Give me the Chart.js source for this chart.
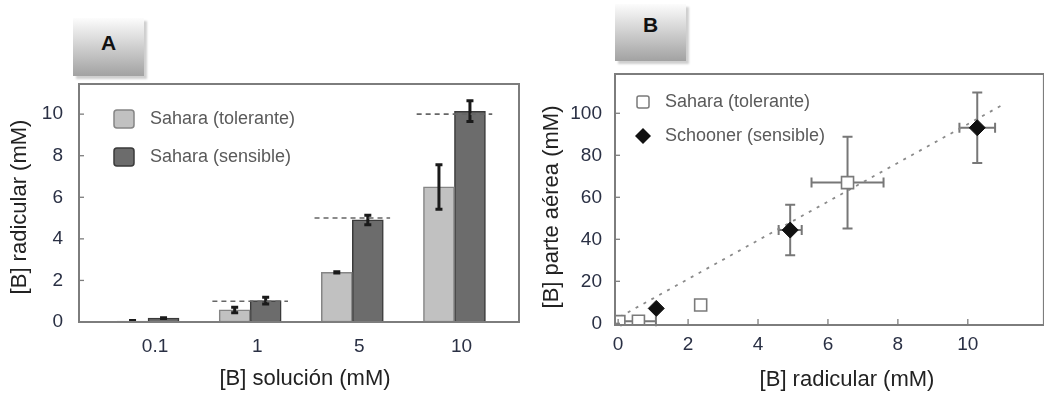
<!DOCTYPE html>
<html>
<head>
<meta charset="utf-8">
<script src="https://cdn.jsdelivr.net/npm/chart.js@4.4.0/dist/chart.umd.min.js"></script>
<style>
body{margin:0;background:#fff;width:1044px;height:394px;overflow:hidden;position:relative;font-family:"Liberation Sans",Arial,sans-serif}
canvas{position:absolute;top:0}
#chartA{left:0}
#chartB{left:520px}
.tab{position:absolute;background:linear-gradient(#fcfcfc,#a2a2a2);box-shadow:3px 3px 2px #cfcfcf;font-weight:bold;font-size:21px;text-align:center;color:#111}
#tabA{left:73px;top:18px;width:71px;height:58px;line-height:50px}
#tabB{left:615px;top:4px;width:71px;height:57px;line-height:42px}
</style>
</head>
<body>
<div class="tab" id="tabA">A</div>
<div class="tab" id="tabB">B</div>
<canvas id="chartA" width="520" height="394"></canvas>
<canvas id="chartB" width="524" height="394"></canvas>
<script>
// panel A: root B vs solution B
var categories = ['0.1', '1', '5', '10'];
var tolerantRoot = [0.05, 0.58, 2.39, 6.5];
var tolerantRootErr = [0.02, 0.13, 0.03, 1.07];
var sensibleRoot = [0.19, 1.03, 4.91, 10.14];
var sensibleRootErr = [0.02, 0.16, 0.23, 0.5];
var solutionLevels = [null, 1, 5, 10];
var rootTicks = [0, 2, 4, 6, 8, 10];

// panel B: shoot B vs root B
var tolerantX = [0.02, 0.58, 2.36, 6.56];
var tolerantY = [0.8, 1.0, 8.7, 67];
var tolerantXErr = [0, 0.5, 0, 1.03];
var tolerantYErr = [0, 0, 0, 21.8];
var sensibleX = [1.09, 4.92, 10.27];
var sensibleY = [7.1, 44.4, 93.1];
var sensibleXErr = [0, 0.33, 0.51];
var sensibleYErr = [0, 12, 16.8];
var trendX = [0.05, 10.95];
var trendY = [3.1, 103.6];
var shootTicks = [0, 20, 40, 60, 80, 100];
var radTicks = [0, 2, 4, 6, 8, 10];

var tickFont = {family: 'Liberation Sans', size: 19};
var tickColor = '#2a3044';

function setTicks(list) {
    return function(scale) { scale.ticks = list.map(function(v) { return {value: v}; }); };
}

function drawErrors(chart, o) {
    var ctx = chart.ctx, xs = chart.scales.x, ys = chart.scales.y;
    ctx.save();
    ctx.strokeStyle = o.color;
    chart.data.datasets.forEach(function(ds, d) {
        if (!ds.errorY) return;
        var meta = chart.getDatasetMeta(d);
        meta.data.forEach(function(el, i) {
            var val = ds.data[i].y, ey = ds.errorY[i] || 0, ex = ds.errorX ? ds.errorX[i] || 0 : 0;
            var cx = el.x, cy = el.y;
            if (ey > 0) {
                var y1 = ys.getPixelForValue(val - ey), y2 = ys.getPixelForValue(val + ey);
                ctx.lineWidth = o.width;
                ctx.beginPath();
                ctx.moveTo(cx, y1); ctx.lineTo(cx, y2);
                ctx.stroke();
                ctx.lineWidth = o.capWidth;
                ctx.beginPath();
                ctx.moveTo(cx - o.cap, y1); ctx.lineTo(cx + o.cap, y1);
                ctx.moveTo(cx - o.cap, y2); ctx.lineTo(cx + o.cap, y2);
                ctx.stroke();
            }
            if (ex > 0) {
                var xv = ds.data[i].x;
                var x1 = xs.getPixelForValue(xv - ex), x2 = xs.getPixelForValue(xv + ex);
                ctx.lineWidth = o.width;
                ctx.beginPath();
                ctx.moveTo(x1, cy); ctx.lineTo(x2, cy);
                ctx.moveTo(x1, cy - o.cap); ctx.lineTo(x1, cy + o.cap);
                ctx.moveTo(x2, cy - o.cap); ctx.lineTo(x2, cy + o.cap);
                ctx.stroke();
            }
        });
    });
    ctx.restore();
}

function drawMarker(ctx, ds, x, y) {
    ctx.save();
    ctx.lineWidth = 1.5;
    if (ds.type === 'bar' || !ds.type) {
        ctx.fillStyle = ds.backgroundColor;
        ctx.strokeStyle = ds.borderColor;
        ctx.beginPath();
        ctx.roundRect(x - 10, y - 9, 20, 18, 3);
        ctx.fill(); ctx.stroke();
    } else if (ds.pointStyle === 'rect') {
        ctx.fillStyle = '#fff';
        ctx.strokeStyle = ds.pointBorderColor;
        ctx.beginPath();
        ctx.roundRect(x - 6, y - 6, 12, 12, 2);
        ctx.fill(); ctx.stroke();
    } else {
        ctx.fillStyle = ds.pointBackgroundColor;
        ctx.beginPath();
        ctx.moveTo(x - 8, y); ctx.lineTo(x, y - 8); ctx.lineTo(x + 8, y); ctx.lineTo(x, y + 8);
        ctx.closePath();
        ctx.fill();
    }
    ctx.restore();
}

var extras = {
    id: 'extras',
    beforeDatasetsDraw: function(chart, args, o) {
        if (o.errors && o.errors.below) drawErrors(chart, o.errors);
    },
    afterDatasetsDraw: function(chart, args, o) {
        var ctx = chart.ctx, xs = chart.scales.x, ys = chart.scales.y;
        if (o.errors && !o.errors.below) drawErrors(chart, o.errors);
        if (o.refLines) {
            ctx.save();
            ctx.strokeStyle = '#666';
            ctx.lineWidth = 1.6;
            ctx.setLineDash([5, 4]);
            o.refLines.levels.forEach(function(lv, i) {
                if (lv === null) return;
                var y = ys.getPixelForValue(lv);
                ctx.beginPath();
                ctx.moveTo(xs.getPixelForValue(i + 1 - o.refLines.half), y);
                ctx.lineTo(xs.getPixelForValue(i + 1 + o.refLines.half), y);
                ctx.stroke();
            });
            ctx.restore();
        }
    },
    afterDraw: function(chart, args, o) {
        var ctx = chart.ctx, a = chart.chartArea;
        var xs = chart.scales.x, ys = chart.scales.y;
        ctx.save();
        // frame
        ctx.strokeStyle = '#7d7d7d';
        ctx.lineWidth = 2;
        ctx.strokeRect(a.left, a.top, a.right - a.left + (o.openRight ? 10 : 0), a.bottom - a.top);
        // inner tick marks
        ctx.lineWidth = 1.3;
        ys.ticks.forEach(function(t) {
            var y = ys.getPixelForValue(t.value);
            ctx.beginPath(); ctx.moveTo(a.left, y); ctx.lineTo(a.left + 5, y); ctx.stroke();
        });
        if (o.xTicks) {
            xs.ticks.forEach(function(t) {
                var x = xs.getPixelForValue(t.value);
                ctx.beginPath(); ctx.moveTo(x, a.bottom); ctx.lineTo(x, a.bottom - 6); ctx.stroke();
            });
        }
        // legend
        ctx.font = '18px "Liberation Sans", Arial, sans-serif';
        ctx.textBaseline = 'middle';
        ctx.textAlign = 'left';
        o.legend.order.forEach(function(d, k) {
            var ds = chart.data.datasets[d];
            var cy = o.legend.y + k * o.legend.gap;
            drawMarker(ctx, ds, o.legend.x, cy);
            ctx.fillStyle = '#5a5a5a';
            ctx.fillText(ds.label, o.legend.textX, cy);
        });
        // axis titles
        ctx.fillStyle = '#222';
        ctx.font = '22px "Liberation Sans", Arial, sans-serif';
        ctx.textAlign = 'center';
        ctx.fillText(o.titles.x.text, o.titles.x.cx, o.titles.x.cy);
        ctx.translate(o.titles.y.cx, o.titles.y.cy);
        ctx.rotate(-Math.PI / 2);
        ctx.fillText(o.titles.y.text, 0, 0);
        ctx.restore();
    }
};

var chartA = new Chart(document.getElementById('chartA'), {
    type: 'bar',
    data: {
        datasets: [{
            label: 'Sahara (tolerante)',
            data: tolerantRoot.map(function(v, i) { return {x: i + 1, y: v}; }),
            errorY: tolerantRootErr,
            backgroundColor: '#c1c1c1',
            borderColor: '#858585',
            borderWidth: 1.5,
            borderSkipped: false
        }, {
            label: 'Sahara (sensible)',
            data: sensibleRoot.map(function(v, i) { return {x: i + 1, y: v}; }),
            errorY: sensibleRootErr,
            backgroundColor: '#6c6c6c',
            borderColor: '#3a3a3a',
            borderWidth: 1.5,
            borderSkipped: false
        }]
    },
    options: {
        responsive: false,
        animation: false,
        barThickness: 31,
        layout: {padding: {top: 84, right: 1, left: 0, bottom: 0}},
        scales: {
            x: {
                type: 'linear', min: 0.324, max: 4.632, offset: false,
                grid: {display: false, drawTicks: false}, border: {display: false},
                afterBuildTicks: setTicks([1, 2, 3, 4]),
                afterFit: function(s) { s.height = 72; },
                ticks: {font: tickFont, color: tickColor, padding: 13, labelOffset: 7,
                    callback: function(v) { return categories[v - 1]; }}
            },
            y: {
                min: 0, max: 11.45,
                grid: {display: false, drawTicks: false}, border: {display: false},
                afterBuildTicks: setTicks(rootTicks),
                afterFit: function(s) { s.width = 79; },
                ticks: {font: tickFont, color: tickColor, padding: 16}
            }
        },
        plugins: {
            legend: {display: false},
            tooltip: {enabled: false},
            extras: {
                errors: {color: '#1a1a1a', width: 3, capWidth: 3, cap: 3.5, below: false},
                refLines: {levels: solutionLevels, half: 0.37},
                legend: {order: [0, 1], x: 124, y: 119, gap: 38, textX: 150},
                titles: {
                    x: {text: '[B] solución (mM)', cx: 305, cy: 379},
                    y: {text: '[B] radicular (mM)', cx: 20, cy: 207}
                }
            }
        }
    },
    plugins: [extras]
});

function points(xs, ys) {
    return xs.map(function(x, i) { return {x: x, y: ys[i]}; });
}

var chartB = new Chart(document.getElementById('chartB'), {
    type: 'scatter',
    data: {
        datasets: [{
            type: 'scatter',
            label: 'Sahara (tolerante)',
            data: points(tolerantX, tolerantY),
            errorX: tolerantXErr,
            errorY: tolerantYErr,
            pointStyle: 'rect',
            pointRadius: 8.5,
            pointBackgroundColor: '#fff',
            pointBorderColor: '#7a7a7a',
            pointBorderWidth: 1.6,
            order: 1
        }, {
            type: 'scatter',
            label: 'Schooner (sensible)',
            data: points(sensibleX, sensibleY),
            errorX: sensibleXErr,
            errorY: sensibleYErr,
            pointStyle: 'rectRot',
            pointRadius: 8,
            pointBackgroundColor: '#111',
            pointBorderColor: '#111',
            pointBorderWidth: 1,
            order: 1
        }, {
            type: 'line',
            label: 'trend',
            data: points(trendX, trendY),
            borderColor: '#8a8a8a',
            borderWidth: 1.8,
            borderDash: [3, 6],
            pointRadius: 0,
            fill: false,
            order: 2
        }]
    },
    options: {
        responsive: false,
        animation: false,
        layout: {padding: {top: 74, right: 0, left: 0, bottom: 0}},
        scales: {
            x: {
                type: 'linear', min: -0.09, max: 11.89,
                grid: {display: false, drawTicks: false}, border: {display: false},
                afterBuildTicks: setTicks(radTicks),
                afterFit: function(s) { s.height = 69; },
                ticks: {font: tickFont, color: tickColor, padding: 8}
            },
            y: {
                min: -0.8, max: 118.7,
                grid: {display: false, drawTicks: false}, border: {display: false},
                afterBuildTicks: setTicks(shootTicks),
                afterFit: function(s) { s.width = 95; },
                ticks: {font: tickFont, color: tickColor, padding: 13}
            }
        },
        plugins: {
            legend: {display: false},
            tooltip: {enabled: false},
            extras: {
                errors: {color: '#777', width: 2, capWidth: 2, cap: 5, below: true},
                xTicks: true,
                openRight: true,
                legend: {order: [0, 1], x: 123, y: 102, gap: 34, textX: 145},
                titles: {
                    x: {text: '[B] radicular (mM)', cx: 327, cy: 380},
                    y: {text: '[B] parte aérea (mM)', cx: 32, cy: 207}
                }
            }
        }
    },
    plugins: [extras]
});
</script>
</body>
</html>
